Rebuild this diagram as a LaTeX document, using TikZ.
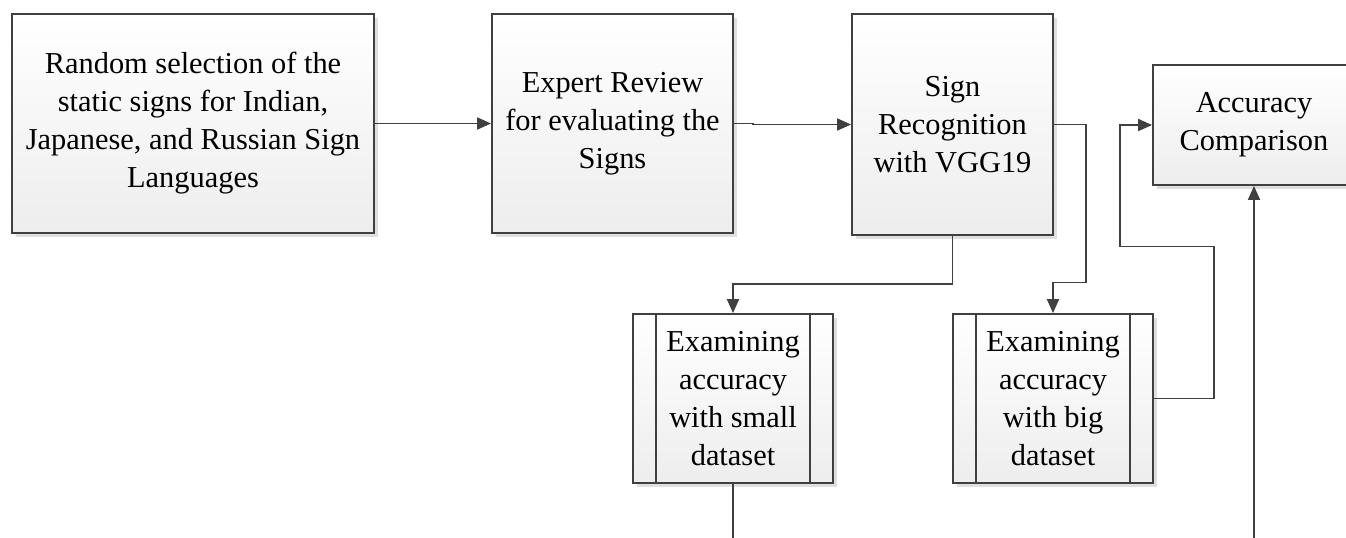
\documentclass[tikz,border=0pt]{standalone}
\usepackage{fontspec}
\setmainfont{Liberation Serif}
\usepackage{tikz}
\usetikzlibrary{arrows.meta,shadows}

\definecolor{edge}{RGB}{64,64,64}

\tikzset{
  stepbox/.style={draw=edge, line width=0.9pt, top color=white, bottom color=gray!14,
    drop shadow={shadow xshift=1.8pt, shadow yshift=-1.8pt, opacity=0.25},
    align=center, inner sep=0pt, font=\rmfamily\fontsize{15.2}{19}\selectfont},
  subbox/.style={stepbox, minimum width=100pt, minimum height=84.5pt},
  arr/.style={draw=edge, line width=0.9pt, -{Triangle[length=7pt, width=6pt]}},
  plain/.style={draw=edge, line width=0.9pt}
}

\begin{document}
\begin{tikzpicture}[x=0.5pt, y=-0.5pt]

\useasboundingbox (0,0) rectangle (1346,537);
\clip (0,0) rectangle (1346,537);

% top row
\node[stepbox, minimum width=181pt, minimum height=109.5pt] (rand) at (193,123.5)
  {Random selection of the\\static signs for Indian,\\Japanese, and Russian Sign\\Languages};
\node[stepbox, minimum width=120.5pt, minimum height=109.5pt] (expert) at (612.5,123.5)
  {Expert Review\\for evaluating the\\Signs};
\node[stepbox, minimum width=100.5pt, minimum height=110.5pt] (recog) at (952.5,124.5)
  {Sign\\Recognition\\with VGG19};
\node[stepbox, minimum width=101pt, minimum height=60pt] (accu) at (1254,125)
  {Accuracy\\Comparison};

% predefined process boxes
\node[subbox] (small) at (733,398.5) {Examining\\accuracy\\with small\\dataset};
\node[subbox] (big) at (1053,398.5) {Examining\\accuracy\\with big\\dataset};

\foreach \b in {small,big} {
  \draw[plain] ([xshift=12pt]\b.north west) -- ([xshift=12pt]\b.south west);
  \draw[plain] ([xshift=-12pt]\b.north east) -- ([xshift=-12pt]\b.south east);
}

% connectors
\draw[arr] (rand) -- (expert);
\draw[arr] (expert.east) -- ++(19,0) |- (recog.west);
\draw[arr] (recog.south) -- ++(0,48) -| (small.north);
\draw[arr] (recog.east) -- ++(32,0) -- ++(0,158) -| (big.north);
\draw[arr] (big.east) -- ++(60,0) -- ++(0,-152) -- ++(-94,0) |- (accu.west);

% lines leaving the frame
\coordinate (smallout) at (733,540);
\coordinate (accin) at (1254,540);
\draw[plain] (small.south) -- (smallout);
\draw[arr] (accin) -- (accu.south);

\end{tikzpicture}
\end{document}
